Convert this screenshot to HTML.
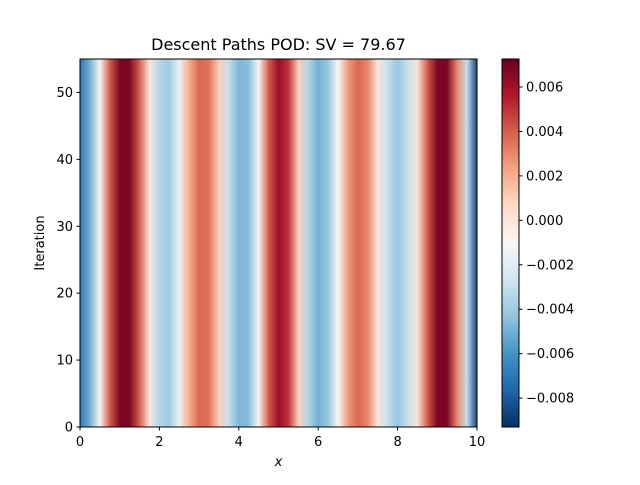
<!DOCTYPE html>
<html><head><meta charset="utf-8"><style>
body{margin:0;background:#fff}
text{font-family:"DejaVu Sans","Liberation Sans",sans-serif;fill:#000}
</style></head><body>
<svg id="chart" width="640" height="480" xmlns="http://www.w3.org/2000/svg">
<defs id="defs"></defs>
<g id="plot"></g>
</svg>
<script>
const xs=[0,0.25,0.5,0.75,1,1.25,1.5,1.75,2,2.25,2.5,2.75,3,3.25,3.5,3.75,4,4.25,4.5,4.75,5,5.25,5.5,5.75,6,6.25,6.5,6.75,7,7.25,7.5,7.75,8,8.25,8.5,8.75,9,9.25,9.5,9.75,10];
const values=[-0.007,-0.005,-0.001,0.004,0.0068,0.0068,0.004,0.0,-0.0035,-0.004,-0.0015,0.002,0.0038,0.0035,0.001,-0.003,-0.0048,-0.0045,-0.001,0.004,0.0062,0.005,0.001,-0.0035,-0.005,-0.0042,-0.001,0.0025,0.0038,0.003,0.0,-0.003,-0.0042,-0.003,0.0,0.004,0.0068,0.0068,0.003,-0.003,-0.0088];
const xTicks=[0,2,4,6,8,10];
const yTicks=[0,10,20,30,40,50];
const cbTicks=[0.006,0.004,0.002,0.000,-0.002,-0.004,-0.006,-0.008];
const cbTickLabels=["0.006","0.004","0.002","0.000","\u22120.002","\u22120.004","\u22120.006","\u22120.008"];
const vmin=-0.0093, vmax=0.00726;
const X0=80,X1=477,Y0=427,Y1=59;
const sx=v=>X0+(v-0)/(10-0)*(X1-X0);
const sy=v=>Y0-(v-0)/(55-0)*(Y0-Y1);
const CBX=502,CBW=17;
const sc=v=>Y1+(vmax-v)/(vmax-vmin)*(Y0-Y1);
const rdbu=["#67001f","#b2182b","#d6604d","#f4a582","#fddbc7","#f7f7f7","#d1e5f0","#92c5de","#4393c3","#2166ac","#053061"];
function hex(h){return [1,3,5].map(i=>parseInt(h.substr(i,2),16));}
function cmap(v){let t=(v-vmin)/(vmax-vmin);t=Math.max(0,Math.min(1,t));let u=(1-t)*10;let i=Math.min(9,Math.floor(u));let f=u-i;let a=hex(rdbu[i]),b=hex(rdbu[i+1]);return "rgb("+a.map((c,k)=>Math.round(c+(b[k]-c)*f)).join(",")+")";}
const NS="http://www.w3.org/2000/svg";
const svg=document.getElementById('chart'),defs=document.getElementById('defs'),g=document.getElementById('plot');
function el(t,a,p){const e=document.createElementNS(NS,t);for(const k in a)e.setAttribute(k,a[k]);(p||g).appendChild(e);return e;}
for(let i=0;i<xs.length-1;i++){
 const gr=el('linearGradient',{id:'g'+i,x1:'0',x2:'1',y1:'0',y2:'0'},defs);
 el('stop',{offset:'0','stop-color':cmap(values[i])},gr);
 el('stop',{offset:'1','stop-color':cmap(values[i+1])},gr);
 const r=el('rect',{x:sx(xs[i])-0.3,y:Y1,width:sx(xs[i+1])-sx(xs[i])+0.6,height:Y0-Y1,fill:'url(#g'+i+')'});
 
 
}
const fr=el('rect',{x:X0,y:Y1,width:X1-X0,height:Y0-Y1,fill:'none',stroke:'#000','stroke-width':1});


xTicks.forEach(v=>{
 el('line',{x1:sx(v),x2:sx(v),y1:Y0,y2:Y0+3.5,stroke:'#000'});
 const t=el('text',{x:sx(v),y:Y0+19,'text-anchor':'middle','font-size':'13'});t.textContent=v;
 
 
});
yTicks.forEach(v=>{
 el('line',{x1:X0-3.5,x2:X0,y1:sy(v),y2:sy(v),stroke:'#000'});
 const t=el('text',{x:X0-7,y:sy(v)+4.5,'text-anchor':'end','font-size':'13'});t.textContent=v;
 
 
});
const cg=el('linearGradient',{id:'cbg',x1:'0',x2:'0',y1:'1',y2:'0'},defs);
for(let k=0;k<=20;k++){const v=vmin+(vmax-vmin)*k/20;el('stop',{offset:k/20,'stop-color':cmap(v)},cg);}
const cb=el('rect',{x:CBX,y:Y1,width:CBW,height:Y0-Y1,fill:'url(#cbg)',stroke:'#000','stroke-width':1});


cbTicks.forEach((v,i)=>{
 el('line',{x1:CBX+CBW,x2:CBX+CBW+3.5,y1:sc(v),y2:sc(v),stroke:'#000'});
 const t=el('text',{x:CBX+CBW+7,y:sc(v)+4.5,'font-size':'13'});t.textContent=cbTickLabels[i];
 
 
});
</script>
<svg style="position:absolute;left:0;top:0" width="640" height="480" xmlns="http://www.w3.org/2000/svg">
<text x="278.5" y="50" text-anchor="middle" font-size="16">Descent Paths POD: SV = 79.67</text>
<text x="278.5" y="466" text-anchor="middle" font-size="13" font-style="italic">x</text>
<text x="44" y="243" text-anchor="middle" font-size="13" transform="rotate(-90 44 243)">Iteration</text>
</svg>
</body></html>
